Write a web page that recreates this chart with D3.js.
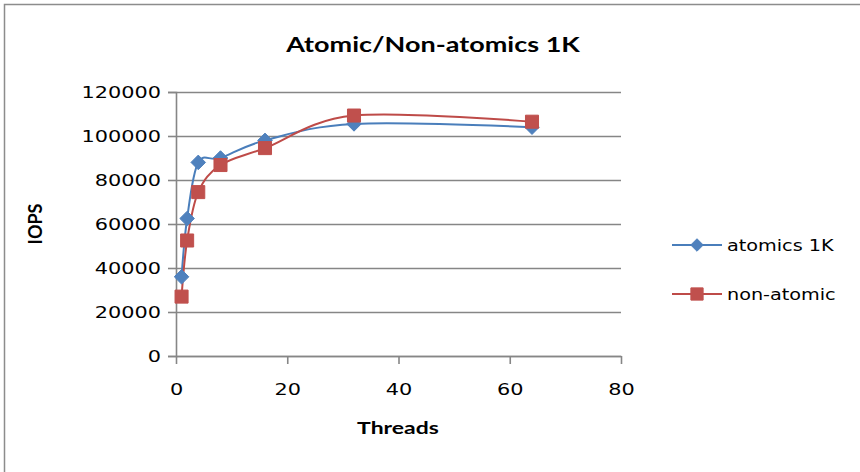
<!DOCTYPE html>
<html>
<head>
<meta charset="utf-8">
<script src="https://cdn.jsdelivr.net/npm/d3@7"></script>
<style>
  body { margin: 0; background: #fff; }
  text { font-family: "DejaVu Sans", Verdana, sans-serif; fill: #000; }
</style>
</head>
<body>
<script>
const width = 860;
const height = 472;
const margin = {top: 92, right: 239, bottom: 116, left: 176};

const threads = [1, 2, 4, 8, 16, 32, 64];
const atomics = [36000, 62500, 88000, 90000, 98000, 105500, 104000];
const nonAtomic = [27000, 52500, 74500, 86800, 94500, 109300, 106500];
const xTicks = [0, 20, 40, 60, 80];
const yTicks = [0, 20000, 40000, 60000, 80000, 100000, 120000];

const series = [
  {name: "atomics 1K", values: atomics, line: "#4a7ebb", fill: "#4f81bd", shape: d3.symbolDiamond2},
  {name: "non-atomic", values: nonAtomic, line: "#be4b48", fill: "#c0504d", shape: d3.symbolSquare}
];

const x = d3.scaleLinear().domain([0, 80]).range([margin.left, width - margin.right]);
const y = d3.scaleLinear().domain([0, 120000]).range([height - margin.bottom, margin.top]);

// the source picture is stretched sideways, so widen the glyphs
const stretch = (sel, k) => sel.each(function() {
  const len = this.getComputedTextLength();
  d3.select(this).attr('textLength', len * k).attr('lengthAdjust', 'spacingAndGlyphs');
});

const svg = d3.select('body').append('svg').attr('width', width).attr('height', height);

// chart frame
svg.append('rect')
  .attr('x', 4.5).attr('y', 4.5)
  .attr('width', width + 10).attr('height', height + 10)
  .attr('fill', 'none').attr('stroke', '#8c8c8c').attr('stroke-width', 1.5);

svg.append('text')
  .attr('x', 433).attr('y', 52)
  .attr('text-anchor', 'middle')
  .style('font-family', 'Lato, "Open Sans", sans-serif')
  .style('font-weight', 'bold').style('font-size', '20px')
  .text('Atomic/Non-atomics 1K')
  .call(stretch, 1.35);

// gridlines + y axis
const yAxis = g => g
  .attr('transform', `translate(${margin.left},0)`)
  .call(d3.axisLeft(y).tickValues(yTicks).tickFormat(d3.format('d')).tickSize(8).tickPadding(7))
  .call(g => g.select('.domain').attr('stroke', '#868686').attr('stroke-width', 1.6))
  .call(g => g.selectAll('.tick line').attr('stroke', '#868686').attr('stroke-width', 1.6))
  .call(g => g.selectAll('.tick').append('line')
    .attr('x2', width - margin.right - margin.left)
    .attr('stroke', '#868686').attr('stroke-width', 1.6))
  .call(g => g.selectAll('text')
    .style('font-size', '16px').attr('fill', '#000')
    .call(stretch, 1.3));

const xAxis = g => g
  .attr('transform', `translate(0,${height - margin.bottom})`)
  .call(d3.axisBottom(x).tickValues(xTicks).tickSize(8).tickPadding(20).tickSizeOuter(0))
  .call(g => g.select('.domain').attr('stroke', '#868686').attr('stroke-width', 1.6))
  .call(g => g.selectAll('.tick line').attr('stroke', '#868686').attr('stroke-width', 1.6))
  .call(g => g.selectAll('text')
    .style('font-size', '16px').attr('fill', '#000')
    .call(stretch, 1.3));

svg.append('g').call(yAxis);
svg.append('g').call(xAxis);

svg.append('text')
  .attr('x', 398).attr('y', 434)
  .attr('text-anchor', 'middle')
  .style('font-family', 'Lato, "Open Sans", sans-serif')
  .style('font-weight', 'bold').style('font-size', '17px')
  .text('Threads')
  .call(stretch, 1.35);

svg.append('text')
  .attr('transform', 'translate(42,224) rotate(-90)')
  .attr('text-anchor', 'middle')
  .style('font-family', 'Lato, "Open Sans", sans-serif')
  .style('font-weight', 'bold').style('font-size', '18px')
  .text('IOPS');

const line = d3.line()
  .curve(d3.curveCardinal.tension(0))
  .x((d, i) => x(threads[i]))
  .y(d => y(d));

series.forEach(s => {
  svg.append('path')
    .datum(s.values)
    .attr('fill', 'none')
    .attr('stroke', s.line)
    .attr('stroke-width', 2)
    .attr('d', line);
});

series.forEach(s => {
  const size = s.shape === d3.symbolSquare ? 170 : 135;
  svg.append('g').selectAll('path')
    .data(s.values)
    .join('path')
    .attr('transform', (d, i) => `translate(${x(threads[i])},${y(d)})`)
    .attr('d', d3.symbol(s.shape, size))
    .attr('fill', s.fill)
    .attr('stroke', s.fill);
});

// legend
const legend = svg.append('g').attr('transform', 'translate(672,245)');
series.forEach((s, i) => {
  const g = legend.append('g').attr('transform', `translate(0,${i * 49})`);
  g.append('line').attr('x1', 0).attr('x2', 50).attr('stroke', s.line).attr('stroke-width', 2);
  g.append('path')
    .attr('transform', 'translate(25,0)')
    .attr('d', d3.symbol(s.shape, s.shape === d3.symbolSquare ? 150 : 100))
    .attr('fill', s.fill).attr('stroke', s.fill);
  g.append('text')
    .attr('x', 55).attr('y', 6)
    .style('font-size', '16px')
    .text(s.name)
    .call(stretch, 1.2);
});
</script>
</body>
</html>
